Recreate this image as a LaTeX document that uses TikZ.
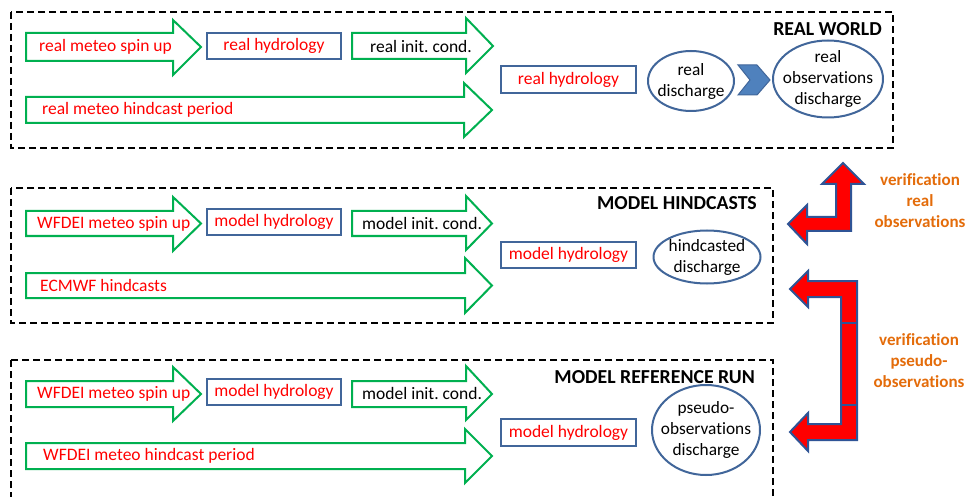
\documentclass[tikz,border=0pt]{standalone}
\usepackage{fontspec}
\setmainfont{Carlito}[Ligatures=NoCommon]
\frenchspacing
\definecolor{grn}{HTML}{00B050}
\definecolor{bblue}{HTML}{41669A}
\definecolor{chev}{HTML}{4F81BD}
\definecolor{dblue}{HTML}{2F5496}
\definecolor{orng}{HTML}{E46C0A}
\tikzset{
  garrowst/.style={draw=grn, line width=2pt, line join=miter, fill=white},
  rt/.style={text=red, font=\fontsize{17.5}{20}\selectfont, inner sep=0pt},
  bt/.style={text=black, font=\fontsize{17.5}{20}\selectfont, inner sep=0pt},
  bbox/.style={draw=bblue, line width=2pt, text=red, font=\fontsize{17.5}{20}\selectfont, inner sep=0pt},
  elltxt/.style={align=center, font=\fontsize{17.3}{21}\selectfont, inner sep=0pt},
  ellline/.style={draw=bblue, line width=2pt},
  frame/.style={draw=black, line width=1.8pt, dash pattern=on 7pt off 4pt},
  ttl/.style={font=\bfseries\fontsize{19.8}{22}\selectfont, anchor=east, inner sep=0pt},
  vtxt/.style={text=orng, font=\bfseries\fontsize{17}{21}\selectfont, align=center, inner sep=0pt},
  redarr/.style={fill=red, draw=dblue, line width=2pt, line join=miter}
}
% helper: x1, head base x, tip x, body top, body bottom, head top, head bottom
\newcommand\grnarrow[7]{%
  \draw[garrowst] (#1,#4) -- (#2,#4) -- (#2,#6) -- (#3,{(#4+#5)/2}) -- (#2,#7) -- (#2,#5) -- (#1,#5) -- cycle;}
\begin{document}
\begin{tikzpicture}[x=1pt,y=-1pt]
\clip (0,0) rectangle (969,497);
\fill[white] (0,0) rectangle (969,497);

% ---------- frames
\draw[frame] (11,12) rectangle (893,148);
\draw[frame] (11,188) rectangle (773,323);
\draw[frame] (11,360) rectangle (773,520);

% ---------- REAL WORLD
\grnarrow{26}{173}{201}{33}{61}{20}{75}
\grnarrow{352}{466}{493}{33}{59}{18}{73}
\grnarrow{26}{464}{492}{97}{123}{83}{137}
\node[rt, anchor=west] (a1) at (39,47) {real meteo spin up};
\node[bbox, minimum width=134pt, minimum height=26pt] (h1) at (274,46) {real hydrology};
\node[bt, anchor=west] (a2) at (370,46) {real init.\ cond.};
\node[rt, anchor=west] (a3) at (42,110) {real meteo hindcast period};
\node[bbox, minimum width=135pt, minimum height=27pt] (h2) at (568.5,79.5) {real hydrology};
\node[elltxt] (d1) at (691,81) {real\\discharge};
\draw[ellline] (d1.center) ellipse [x radius=43pt, y radius=30pt];
\node[elltxt] (o1) at (828,79) {real\\observations\\discharge};
\draw[ellline] (o1.center) ellipse [x radius=55pt, y radius=38.5pt];
\draw[fill=chev, draw=bblue, line width=1pt, line join=miter]
  (738,65) -- (757,65) -- (770,80) -- (757,95) -- (738,95) -- (750,80) -- cycle;
\node[ttl] (t1) at (882,29) {REAL WORLD};

% ---------- MODEL HINDCASTS
\grnarrow{26}{173}{201}{211}{236}{197}{251}
\grnarrow{352}{466}{492}{211}{236}{196}{250}
\grnarrow{26}{465}{492}{273}{298}{258}{313}
\node[rt, anchor=west] (b1) at (37,224) {WFDEI meteo spin up};
\node[bbox, minimum width=134pt, minimum height=26pt] (h3) at (274,222) {model hydrology};
\node[bt, anchor=west] (b2) at (362,223) {model init.\ cond.};
\node[rt, anchor=west] (b3) at (40,285) {ECMWF hindcasts};
\node[bbox, minimum width=135pt, minimum height=26pt] (h4) at (568.5,255) {model hydrology};
\node[elltxt] (d2) at (707,257) {hindcasted\\discharge};
\draw[ellline] (d2.center) ellipse [x radius=53.5pt, y radius=26.5pt];
\node[ttl] (t2) at (757,203) {MODEL HINDCASTS};

% ---------- MODEL REFERENCE RUN
\grnarrow{26}{173}{201}{381}{407}{367}{421}
\grnarrow{352}{466}{492}{381}{407}{366}{420}
\grnarrow{26}{465}{492}{443}{469}{429}{483}
\node[rt, anchor=west] (c1) at (37,394) {WFDEI meteo spin up};
\node[bbox, minimum width=134pt, minimum height=26pt] (h5) at (274,392) {model hydrology};
\node[bt, anchor=west] (c2) at (362,393) {model init.\ cond.};
\node[rt, anchor=west] (c3) at (43,456) {WFDEI meteo hindcast period};
\node[bbox, minimum width=135pt, minimum height=27pt] (h6) at (568.5,432.5) {model hydrology};
\node[elltxt] (d3) at (706,430) {pseudo-\\observations\\discharge};
\draw[ellline] (d3.center) ellipse [x radius=54pt, y radius=45pt];
\node[ttl] (t3) at (755,377) {MODEL REFERENCE RUN};

% ---------- verification arrows
\draw[redarr] (843,163) -- (864,184) -- (851,184) -- (851,231) -- (807,231) -- (807,244)
  -- (788,224) -- (807,205) -- (807,217) -- (836,217) -- (836,184) -- (822,184) -- cycle;
\draw[redarr] (790,289) -- (808,271) -- (808,281) -- (857,281) -- (857,440) -- (808,440)
  -- (808,451) -- (790,432) -- (808,413) -- (808,424) -- (841,424) -- (841,297)
  -- (808,297) -- (808,307) -- cycle;
\draw[dblue, line width=1.5pt] (841,323) -- (857,323);
\draw[dblue, line width=1.5pt] (841,405) -- (857,405);
\node[vtxt] (v1) at (920,201) {verification\\real\\observations};
\node[vtxt] (v2) at (919,361) {verification\\pseudo-\\observations};
\end{tikzpicture}
\end{document}
